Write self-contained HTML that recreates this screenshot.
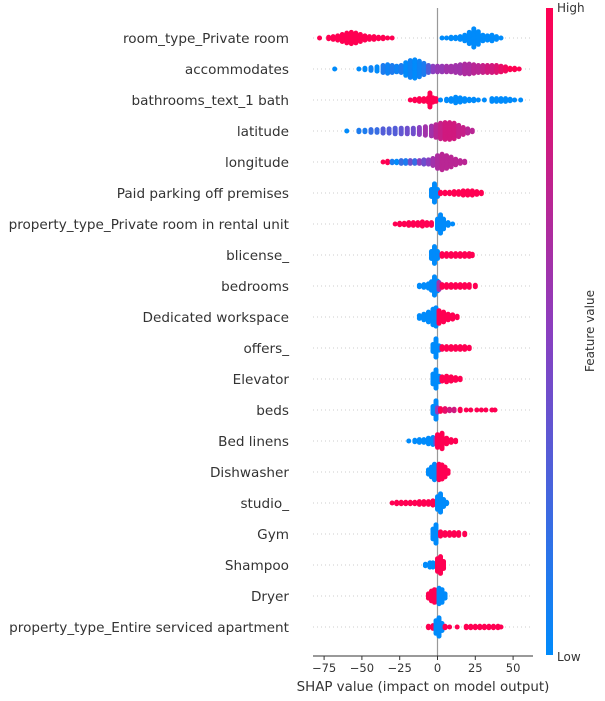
<!DOCTYPE html>
<html><head><meta charset="utf-8"><style>
html,body{margin:0;padding:0;background:#fff;}
svg{display:block;font-family:"DejaVu Sans","Liberation Sans",sans-serif;}
</style></head><body>
<svg id="chart" width="605" height="701" viewBox="0 0 605 701" xmlns="http://www.w3.org/2000/svg">
<defs><linearGradient id="cb" x1="0" y1="1" x2="0" y2="0">
<stop offset="0" stop-color="#008bfb"/><stop offset="0.5" stop-color="#8a3fc0"/><stop offset="1" stop-color="#ff0052"/></linearGradient></defs>
<g id="grid"></g><g id="labels"></g>
<line x1="437.5" y1="8" x2="437.5" y2="656" stroke="#999" stroke-width="1.2"/>
<g id="dots"></g><g id="axis"></g>
<rect x="546" y="8" width="7" height="647" fill="url(#cb)"/>
<text x="557" y="12" font-size="12" fill="#333">High</text>
<text x="557" y="661" font-size="12" fill="#333">Low</text>
<text x="594" y="331" font-size="12" fill="#333" text-anchor="middle" transform="rotate(-90 594 331)">Feature value</text>
<text x="423" y="691" font-size="13.4" fill="#333" text-anchor="middle">SHAP value (impact on model output)</text>
</svg>
<script>
const features = ["room_type_Private room","accommodates","bathrooms_text_1 bath","latitude","longitude","Paid parking off premises","property_type_Private room in rental unit","blicense_","bedrooms","Dedicated workspace","offers_","Elevator","beds","Bed linens","Dishwasher","studio_","Gym","Shampoo","Dryer","property_type_Entire serviced apartment"];
const xTicks = [-75,-50,-25,0,25,50];
const shapBins = [
[-78,-72,-69,-66,-63,-60,-57,-54,-51,-48,-45,-42,-39,-36,-33,-30,3,6,9,12,15,18,21,24,27,30,33,36,39,42],
[-68,-52,-48,-44,-40,-36,-33,-30,-27,-24,-21,-18,-15,-12,-9,-6,-3,0,3,6,9,12,15,18,21,24,27,30,33,36,39,42,45,48,51,54],
[-18,-15,-12,-9,-6,-5,-3,-1,2,6,9,12,15,18,21,24,27,31,36,39,42,45,48,51,55],
[-60,-52,-48,-44,-40,-36,-32,-28,-24,-20,-16,-12,-8,-4,-1,2,5,8,11,14,17,20,23],
[-36,-33,-30,-27,-24,-21,-18,-15,-12,-9,-6,-3,0,3,6,9,12,15,18],
[-4,-2,0,2,5,8,11,14,17,20,23,26,29],
[-28,-25,-22,-19,-16,-13,-10,-7,-4,0,2,4,7,10],
[-4,-2,0,3,6,9,12,15,18,21,23],
[-12,-9,-6,-4,-2,0,1,3,6,9,12,15,18,21,25],
[-12,-9,-6,-3,-1,1,4,7,10,13],
[-3,-1,1,3,6,9,12,15,18,21],
[-3,-1,1,3,6,9,12,15],
[-3,-1,0,2,5,8,11,15,19,22,26,29,32,36,38],
[-19,-15,-12,-9,-6,-3,-1,0,3,6,9,12],
[-6,-4,-2,1,3,5,7],
[-30,-27,-24,-21,-18,-15,-12,-9,-6,-3,0,2,4,6],
[-3,-1,2,5,8,11,14,18],
[-8,-5,-3,0,2,4],
[-6,-4,-2,0,1,3,5],
[-6,-3,-1,1,3,5,8,13,19,22,25,28,31,34,37,40,42]
];
const binCounts = [
[1,2,3,4,6,8,9,8,6,4,3,3,2,2,1,1,1,1,2,2,3,5,9,14,10,5,4,5,3,1],
[1,1,2,3,4,6,7,6,5,6,10,13,14,12,9,6,5,5,5,5,5,6,7,8,8,7,6,6,6,6,6,5,4,2,2,1],
[1,2,3,3,4,11,4,3,1,2,3,5,4,3,2,2,1,1,3,3,3,3,2,1,1],
[1,2,2,3,3,4,4,5,5,5,5,6,7,8,10,12,13,13,12,9,6,4,2],
[1,2,2,2,3,3,3,3,3,4,4,6,10,12,10,8,5,3,2],
[6,14,6,2,2,2,3,3,4,4,4,3,2],
[1,2,2,3,3,3,4,3,3,8,14,8,3,1],
[6,13,6,3,3,3,3,3,3,3,2],
[2,3,4,7,14,8,6,3,3,3,3,3,3,3,2],
[3,5,8,12,14,10,8,5,4,2],
[6,14,4,3,3,3,3,3,3,2],
[8,14,5,4,5,4,3,2],
[6,14,4,3,3,2,2,2,1,1,1,1,1,1,1],
[1,2,3,3,5,6,5,10,12,5,3,2],
[4,8,12,12,11,8,3],
[1,2,2,2,2,2,3,3,3,4,10,14,6,2],
[8,14,4,3,3,3,3,2],
[2,4,4,10,13,6],
[4,8,10,6,12,10,4],
[2,3,10,14,6,2,1,1,2,2,2,2,2,2,2,2,1]
];
const binColors = [
[1,1,1,1,1,1,1,1,1,1,1,1,1,1,1,1,0,0,0,0,0,0,0,0,0,0,0,0,0,0],
[0,0,0,0.05,0,0.1,0.05,0.1,0.05,0.1,0,0.05,0,0.05,0.1,0.3,0.5,0.55,0.55,0.6,0.6,0.6,0.6,0.65,0.65,0.7,0.7,0.75,0.8,0.8,0.85,0.9,0.95,1,1,1],
[1,1,1,1,1,1,1,1,0,0,0,0,0,0,0,0,0,0,0,0,0,0,0,0,0],
[0,0.1,0.1,0.2,0.2,0.3,0.3,0.3,0.35,0.4,0.4,0.5,0.6,0.6,0.7,0.75,0.8,0.8,0.8,0.75,0.75,0.7,0.7],
[1,1,0.1,0,0.2,0.1,0.4,0.2,0.5,0.4,0.5,0.6,0.65,0.7,0.7,0.7,0.7,0.7,0.7],
[0,0,0,1,1,1,1,1,1,1,1,1,1],
[1,1,1,1,1,1,1,1,1,0,0,0,0,0],
[0,0,0,1,1,1,1,1,1,1,1],
[0,0,0,0,0,0,0.6,1,1,1,1,1,1,1,1],
[0,0,0,0,0,1,1,1,1,1],
[0,0,0,1,1,1,1,1,1,1],
[0,0,0,1,1,1,1,1],
[0,0,0.5,1,0.9,0.8,0.8,1,1,1,1,1,1,1,1],
[0,0,0,0,0,0,0.5,1,1,1,1,1],
[0,0,0,1,1,1,1],
[1,1,1,1,1,1,1,1,1,1,0,0,0,0],
[0,0,1,1,1,1,1,1],
[0,0,0,1,1,1],
[1,1,1,1,0,0,0],
[1,1,0,0,0,1,1,1,1,1,1,1,1,1,1,1,1]
];
const X0=437.5, PXU=1.512, ROW0=38, ROWH=31, AX_Y=656;
const xs=v=>X0+v*PXU, ys=i=>ROW0+i*ROWH;
function col(t){const a=[0,139,251],m=[138,63,192],b=[255,0,82];let c;
 if(t<0.5){const k=t/0.5;c=a.map((v,j)=>v+(m[j]-v)*k);}else{const k=(t-0.5)/0.5;c=m.map((v,j)=>v+(b[j]-v)*k);}
 return `rgb(${c.map(Math.round).join(',')})`;}
const NS="http://www.w3.org/2000/svg";
const mk=(t,a)=>{const e=document.createElementNS(NS,t);for(const k in a)e.setAttribute(k,a[k]);return e;};
const G=document.getElementById('grid'),L=document.getElementById('labels'),D=document.getElementById('dots'),A=document.getElementById('axis');
features.forEach((f,i)=>{
 const y=ys(i);
 const gl=mk('line',{x1:313,x2:533,y1:y,y2:y,stroke:'#ccc','stroke-width':1,'stroke-dasharray':'1,3'});
 
 
 G.appendChild(gl);
 const t=mk('text',{x:289,y:y+5,'font-size':13.6,fill:'#333','text-anchor':'end'});t.textContent=f;
 
 
 L.appendChild(t);
 const g=mk('g',{});
 
 
 shapBins[i].forEach((v,j)=>{
  const n=binCounts[i][j],c=col(binColors[i][j]);
  for(let k=0;k<n;k++){
   const off=(k-(n-1)/2)*1.4;
   const d=mk('circle',{cx:xs(v).toFixed(2),cy:(y+off).toFixed(2),r:2.5,fill:c});
   
   
   g.appendChild(d);
  }
 });
 D.appendChild(g);
});
const ax=mk('line',{x1:313,x2:533,y1:AX_Y,y2:AX_Y,stroke:'#333','stroke-width':1});


A.appendChild(ax);
xTicks.forEach(v=>{
 const tk=mk('line',{x1:xs(v),x2:xs(v),y1:AX_Y,y2:AX_Y+4,stroke:'#333'});
 
 
 A.appendChild(tk);
 const tl=mk('text',{x:xs(v),y:AX_Y+16,'font-size':11.5,fill:'#333','text-anchor':'middle'});
 tl.textContent=v<0?'\u2212'+(-v):String(v);
 
 
 A.appendChild(tl);
});
</script>
</body></html>
